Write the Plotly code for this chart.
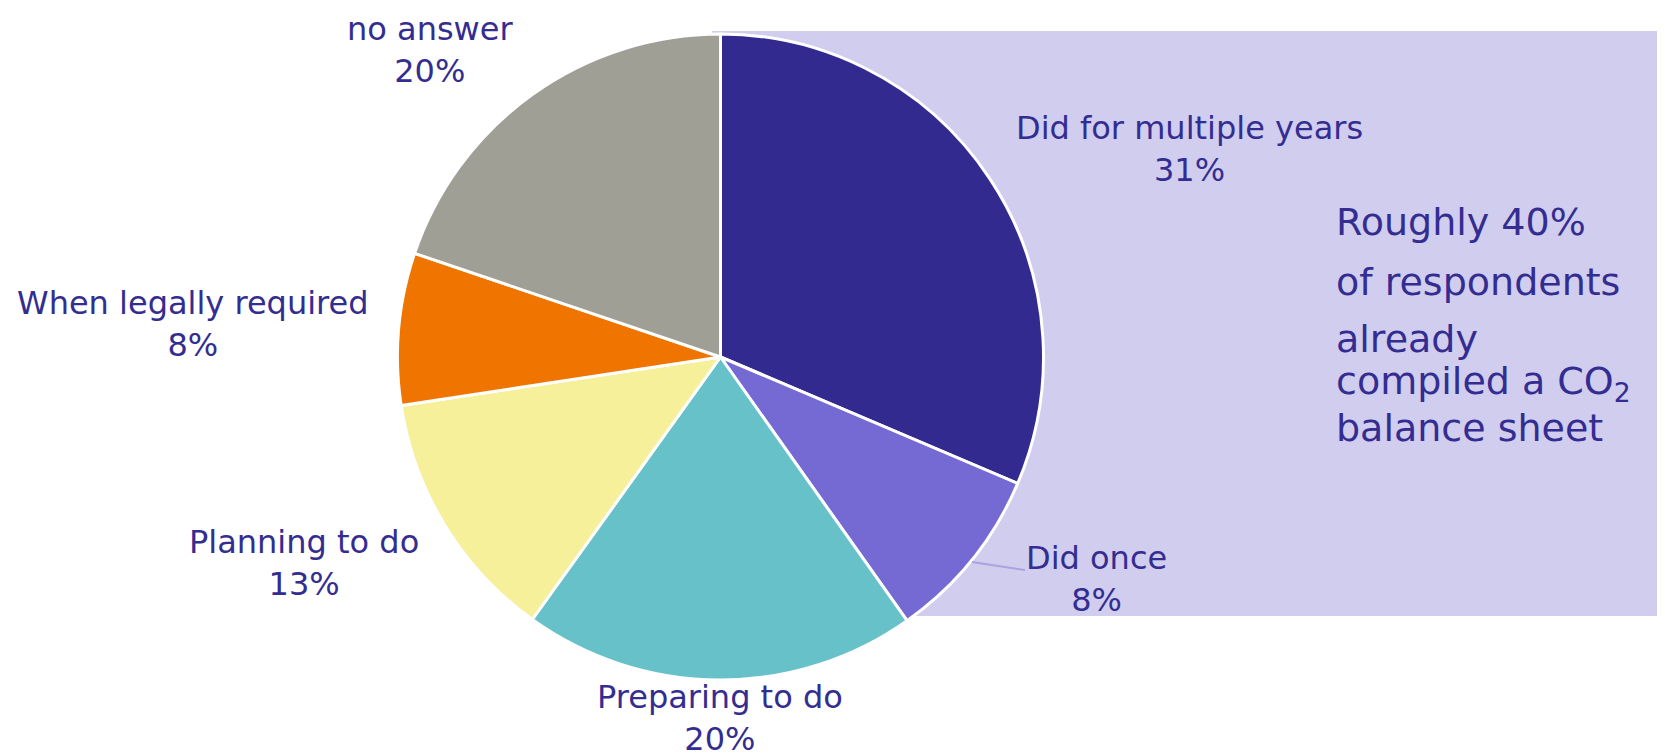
import plotly.graph_objects as go

# ---- data ----
categories = ["Did for multiple years", "Did once", "Preparing to do",
              "Planning to do", "When legally required", "no answer"]
values = [31.4, 8.8, 19.7, 12.7, 7.6, 19.8]
pct_labels = ["31%", "8%", "20%", "13%", "8%", "20%"]
colors = ["#332A8F", "#7569D3", "#66C2C8", "#F7F09A", "#F07400", "#A09F96"]
note_lines = ["Roughly 40%", "of respondents", "already",
              "compiled a CO<sub>2</sub>", "balance sheet"]

W, H = 1665, 755
TXT = "#342D91"
FONT = "DejaVu Sans"
OFF = 8  # page body margin offset

def px(x):
    return (x - OFF) / W

def py(y):
    return 1 - (y - OFF) / H

# pie geometry in screen pixels
cx, cy, r = 720.5, 357, 323

fig = go.Figure()
fig.add_trace(go.Pie(
    labels=categories, values=values, sort=False, direction="clockwise",
    rotation=0, marker=dict(colors=colors, line=dict(color="white", width=3)),
    textinfo="none", hoverinfo="label+percent", showlegend=False,
    domain=dict(x=[px(cx - r), px(cx + r)], y=[py(cy + r), py(cy - r)]),
))

shapes = [
    dict(type="rect", xref="paper", yref="paper", x0=px(712), x1=1.0,
         y0=py(616), y1=py(31), fillcolor="#D1CDEF", line=dict(width=0), layer="below"),
    dict(type="line", xref="paper", yref="paper", x0=px(972), y0=py(562),
         x1=px(1025), y1=py(570), line=dict(color="#A9A3E0", width=2)),
]

# label positions (screen pixel centers) per slice
label_pos = [(1189, 149), (1096, 579), (720, 718), (304, 563), (193, 324), (430, 50)]
annotations = []
for cat, pct, (x, y) in zip(categories, pct_labels, label_pos):
    annotations.append(dict(
        x=px(x), y=py(y), xref="paper", yref="paper", showarrow=False,
        text=f"{cat}<br>{pct}", align="center", xanchor="center", yanchor="middle",
        font=dict(family=FONT, size=32, color=TXT)))

note_y = [222, 282, 339, 384, 428]
for line, y in zip(note_lines, note_y):
    annotations.append(dict(
        x=px(1334), y=py(y), xref="paper", yref="paper", showarrow=False,
        text=line, align="left", xanchor="left", yanchor="middle",
        font=dict(family=FONT, size=38, color=TXT)))

fig.update_layout(
    width=W, height=H, margin=dict(l=0, r=0, t=0, b=0),
    paper_bgcolor="white", plot_bgcolor="white",
    shapes=shapes, annotations=annotations,
)

fig.write_html("out.html")
